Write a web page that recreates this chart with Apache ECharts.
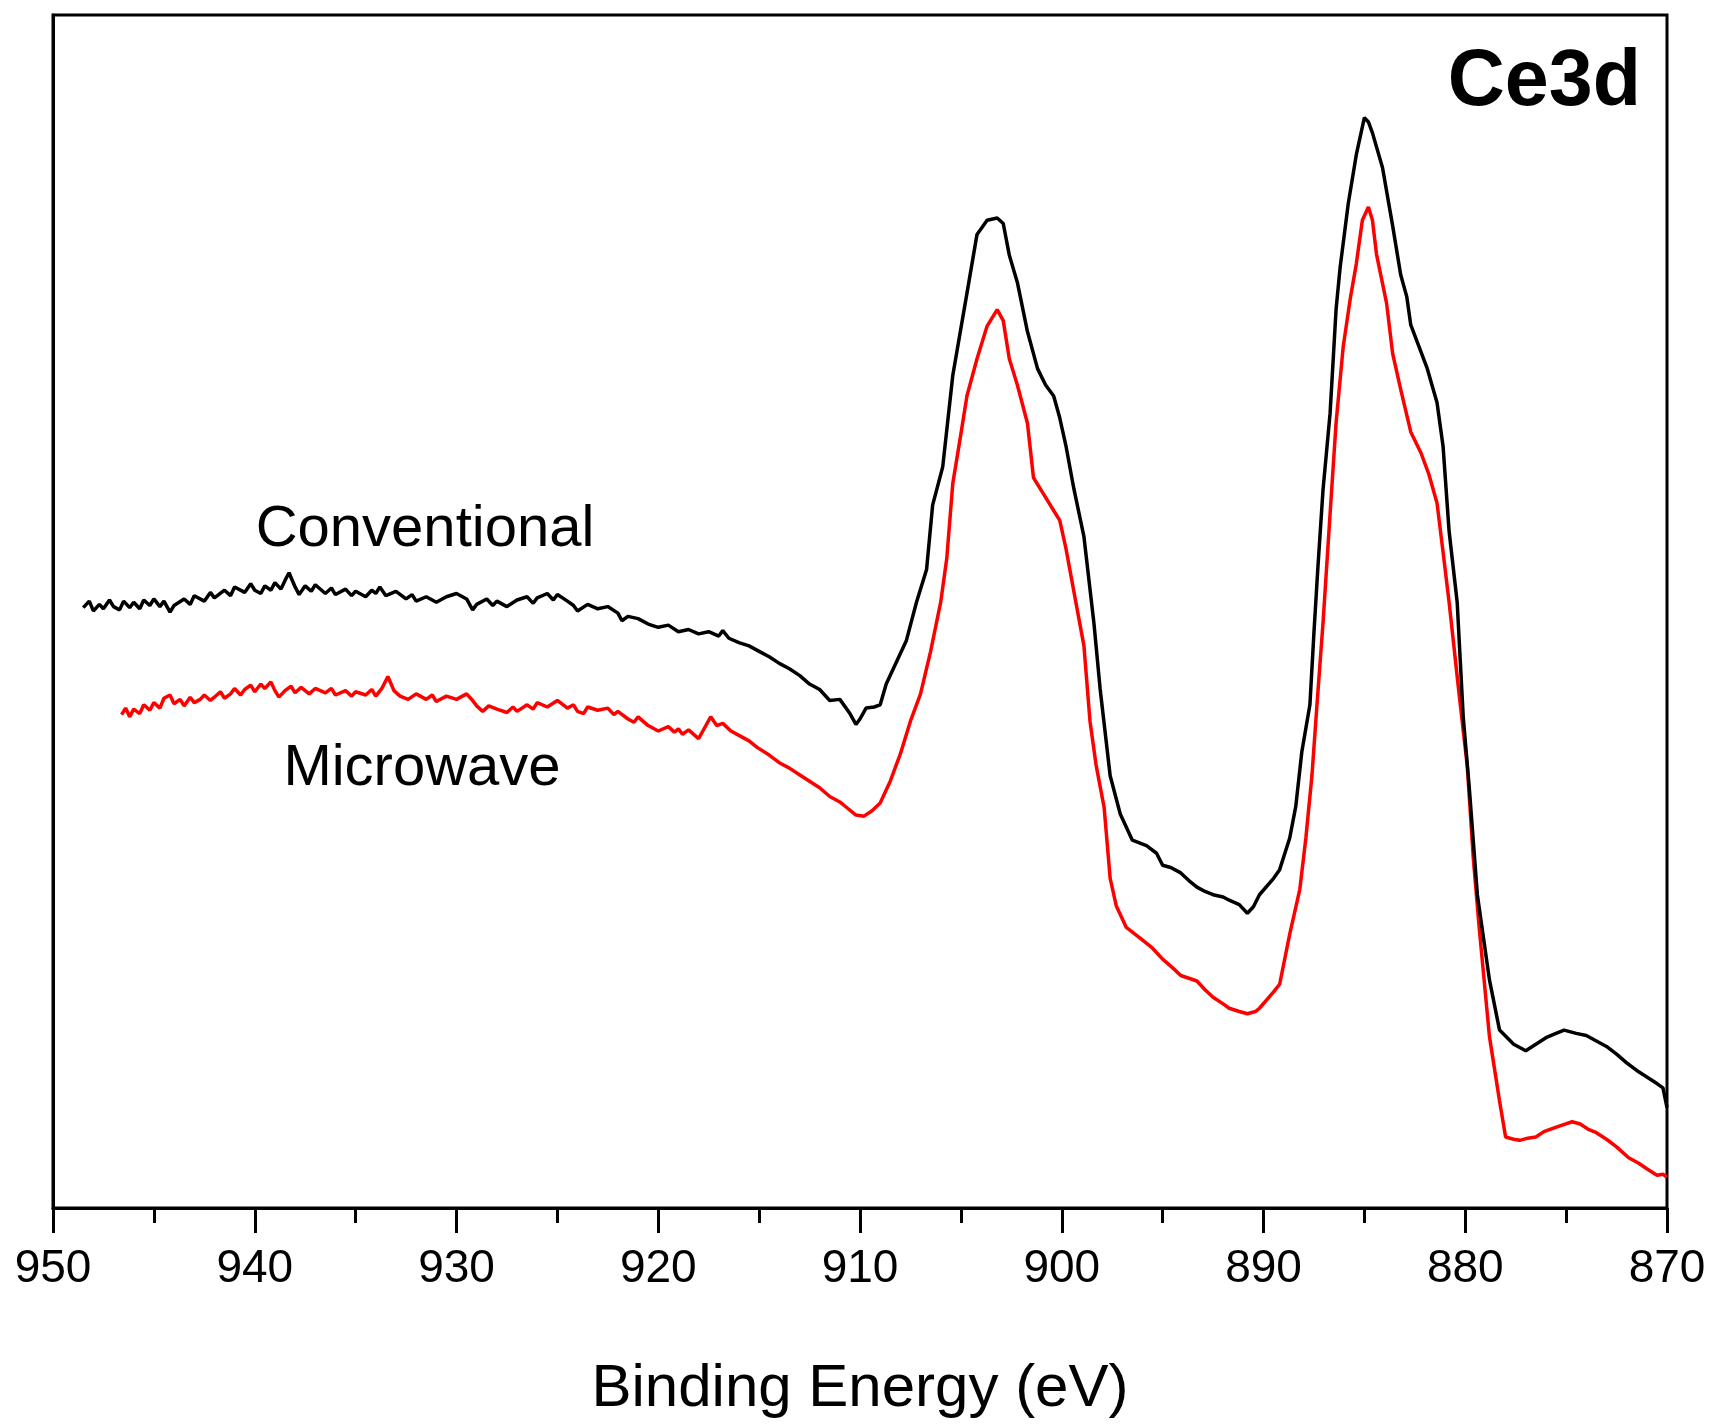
<!DOCTYPE html>
<html>
<head>
<meta charset="utf-8">
<script src="https://cdn.jsdelivr.net/npm/echarts@6/dist/echarts.min.js"></script>
<style>
html,body{margin:0;padding:0;background:#fff;}
#chart{width:1717px;height:1424px;}
</style>
</head>
<body>
<div id="chart"></div>
<script>
// Binding energy (eV) and intensity (a.u.)
const conventionalEnergy = [
948.5,948.2,948,947.7,947.5,947.2,947,946.7,946.5,946.2,
946,945.7,945.5,945.2,945,944.7,944.5,944.2,944,943.5,
943.2,943,942.5,942.2,942,941.5,941.2,941,940.5,940.2,
940,939.7,939.5,939.2,939,938.7,938.5,938.3,938,937.8,
937.5,937.2,937,936.5,936.2,936,935.5,935.2,935,934.5,
934.2,934,933.8,933.5,933,932.5,932.2,932,931.5,931,
930.5,930,929.5,929.2,929,928.5,928.2,928,927.5,927,
926.5,926.2,926,925.5,925.2,925,924.5,924.2,924,923.5,
923,922.5,922,921.8,921.5,921,920.5,920,919.5,919,
918.5,918,917.5,917,916.8,916.5,916,915.5,915,914.5,
914,913.5,913,912.5,912,911.5,911,910.5,910.2,910,
909.7,909.3,909,908.7,908.2,907.7,907.2,906.7,906.4,905.9,
905.4,904.7,904.2,903.7,903.2,902.9,902.6,902.2,901.7,901.2,
900.8,900.4,900.1,899.8,899.4,898.9,898.4,898.1,897.6,897.1,
896.5,895.8,895.3,895,894.6,894.1,893.7,893.3,892.9,892.5,
892,891.7,891.2,890.8,890.5,890.2,889.5,889.2,888.7,888.4,
888.1,887.7,887.5,887.3,887.05,886.7,886.4,886.2,885.8,885.4,
885,884.8,884.6,884.1,883.6,883.2,882.9,882.7,881.9,881.4,
881.1,880.8,880.4,880.1,879.8,879.4,878.8,878.3,877.6,877,
876.5,876,875.5,875.1,874.5,874,873.5,873,872.5,872,
871.5,871,870.5,870.2,870
];
const conventionalIntensity = [
550,556,547,553,549,557,551,548,556,550,
555,549,557,552,558,551,556,546,552,558,
553,561,556,564,559,566,561,569,564,572,
566,563,570,566,573,567,575,582,569,562,
570,565,571,563,568,562,567,561,565,560,
566,563,569,561,565,558,562,556,560,555,
560,563,558,548,553,558,552,556,551,557,
560,554,559,563,557,562,556,552,547,553,
549,551,545,538,542,540,535,532,534,528,
530,526,528,524,529,522,518,515,510,505,
499,494,488,480,475,465,466,453,443,448,
458,459,461,480,500,520,555,585,644,679,
763,838,892,905,907,902,873,848,803,769,
754,744,724,699,659,615,535,476,396,361,
337,332,325,314,312,307,300,294,290,287,
285,282,278,270,276,287,302,310,339,368,
418,461,527,588,658,728,824,862,920,965,
999,995,985,953,900,855,835,809,770,738,
698,620,555,450,385,287,209,163,150,144,
150,156,160,163,160,158,153,148,141,133,
126,120,114,110,92
];
const microwaveEnergy = [
946.6,946.4,946.2,946,945.7,945.5,945.2,945,944.7,944.5,
944.2,944,943.7,943.5,943.2,943,942.7,942.5,942.2,942,
941.7,941.5,941.2,941,940.7,940.5,940.2,940,939.7,939.5,
939.2,939,938.8,938.5,938.2,938,937.7,937.3,937,936.5,
936.2,936,935.5,935.2,935,934.5,934.2,934,933.7,933.4,
933.1,932.8,932.4,932,931.5,931.2,931,930.5,930,929.5,
929.2,929,928.7,928.4,928,927.5,927.2,927,926.5,926.2,
926,925.5,925,924.5,924.2,924,923.7,923.5,923,922.5,
922.2,922,921.5,921.2,921,920.5,920,919.5,919.2,919,
918.8,918.5,918,917.7,917.4,917.1,916.8,916.4,916,915.5,
915.1,914.5,914,913.5,913,912.5,912,911.5,911,910.6,
910.2,909.8,909.4,909,908.5,908,907.5,907,906.5,906,
905.7,905.4,905,904.7,904.2,903.7,903.2,902.9,902.6,902.2,
901.7,901.4,900.9,900.4,900.1,899.8,899.4,898.9,898.6,898.3,
897.9,897.6,897.3,896.8,896.1,895.5,895,894.5,894.1,893.3,
892.9,892.5,892,891.7,891.2,890.8,890.4,890.2,889.5,889.2,
888.7,888.2,887.9,887.6,887.35,887.05,886.7,886.4,886.05,885.7,
885.4,885.1,884.8,884.6,884.4,883.9,883.6,883.2,882.7,882.2,
881.8,881.4,881.1,880.8,880.3,879.9,879.6,879.3,878.8,878.3,
878,877.6,877.3,876.9,876.5,876.1,875.8,875.2,874.7,874.3,
873.9,873.5,873,872.5,871.9,871.4,871,870.5,870.2,870
];
const microwaveIntensity = [
452,458,450,457,453,461,456,463,458,467,
470,462,466,460,468,463,466,470,465,468,
473,467,471,476,470,475,479,473,480,476,
482,474,468,474,478,472,477,471,476,472,
476,470,474,469,473,470,475,469,476,487,
474,469,466,471,466,470,464,469,466,471,
465,460,455,460,457,454,459,455,461,457,
463,459,465,458,461,455,453,459,456,458,
452,455,448,445,450,442,437,441,436,439,
434,438,430,440,450,442,444,437,433,428,
422,415,408,403,397,391,385,377,372,366,
360,359,364,371,391,416,446,471,510,555,
595,664,709,744,778,808,823,813,778,754,
719,669,654,639,630,605,565,515,446,406,
367,302,277,257,247,238,228,220,213,208,
200,193,187,183,180,178,180,183,198,205,
251,292,339,396,461,536,636,720,789,833,
865,905,917,905,874,829,783,750,711,692,
672,646,601,555,470,405,320,255,157,98,
65,63,62,64,65,70,72,76,79,77,
72,69,63,56,46,41,36,30,31,28
];
const xTicks = [950, 940, 930, 920, 910, 900, 890, 880, 870];
const seriesNames = ['Conventional', 'Microwave'];
const panelLabel = 'Ce3d';
const xAxisTitle = 'Binding Energy (eV)';

const FONT = '"Liberation Sans", Arial, Helvetica, sans-serif';
const chart = echarts.init(document.getElementById('chart'), null, {renderer: 'canvas'});
const toPairs = (xs, ys) => xs.map((x, i) => [x, ys[i]]);

chart.setOption({
  animation: false,
  backgroundColor: '#ffffff',
  grid: {
    left: 53, right: 50, top: 15, bottom: 212,
    show: true, borderColor: '#000', borderWidth: 3, backgroundColor: 'transparent'
  },
  xAxis: {
    type: 'value', min: 870, max: 950, interval: 10, inverse: true,
    name: xAxisTitle, nameLocation: 'middle', nameGap: 151,
    nameTextStyle: {fontFamily: FONT, fontSize: 60, color: '#000'},
    axisLine: {show: true, onZero: false, lineStyle: {color: '#000', width: 3}},
    axisTick: {show: true, length: 25, lineStyle: {color: '#000', width: 3}},
    minorTick: {show: true, splitNumber: 2, length: 15, lineStyle: {color: '#000', width: 3}},
    splitLine: {show: false},
    minorSplitLine: {show: false},
    axisLabel: {
      fontFamily: FONT, fontSize: 46, color: '#000', margin: 38,
      formatter: v => xTicks.includes(v) ? String(v) : ''
    }
  },
  yAxis: {
    type: 'value', min: 0, max: 1093,
    axisLine: {show: true, lineStyle: {color: '#000', width: 3}},
    axisTick: {show: false}, axisLabel: {show: false}, splitLine: {show: false}
  },
  series: [
    {
      name: seriesNames[0], type: 'line', showSymbol: false, symbol: 'none',
      data: toPairs(conventionalEnergy, conventionalIntensity),
      lineStyle: {color: '#000000', width: 3.5}, itemStyle: {color: '#000000'}, z: 3
    },
    {
      name: seriesNames[1], type: 'line', showSymbol: false, symbol: 'none',
      data: toPairs(microwaveEnergy, microwaveIntensity),
      lineStyle: {color: '#ff0000', width: 3.5}, itemStyle: {color: '#ff0000'}, z: 2
    }
  ],
  graphic: [
    {type: 'text', x: 1641, y: 83, style: {text: panelLabel, font: 'bold 79px ' + FONT, fill: '#000', textAlign: 'right', textVerticalAlign: 'middle'}},
    {type: 'text', x: 425, y: 530, style: {text: seriesNames[0], font: '58px ' + FONT, fill: '#000', textAlign: 'center', textVerticalAlign: 'middle'}},
    {type: 'text', x: 422, y: 769, style: {text: seriesNames[1], font: '58px ' + FONT, fill: '#000', textAlign: 'center', textVerticalAlign: 'middle'}}
  ]
});
</script>
</body>
</html>
